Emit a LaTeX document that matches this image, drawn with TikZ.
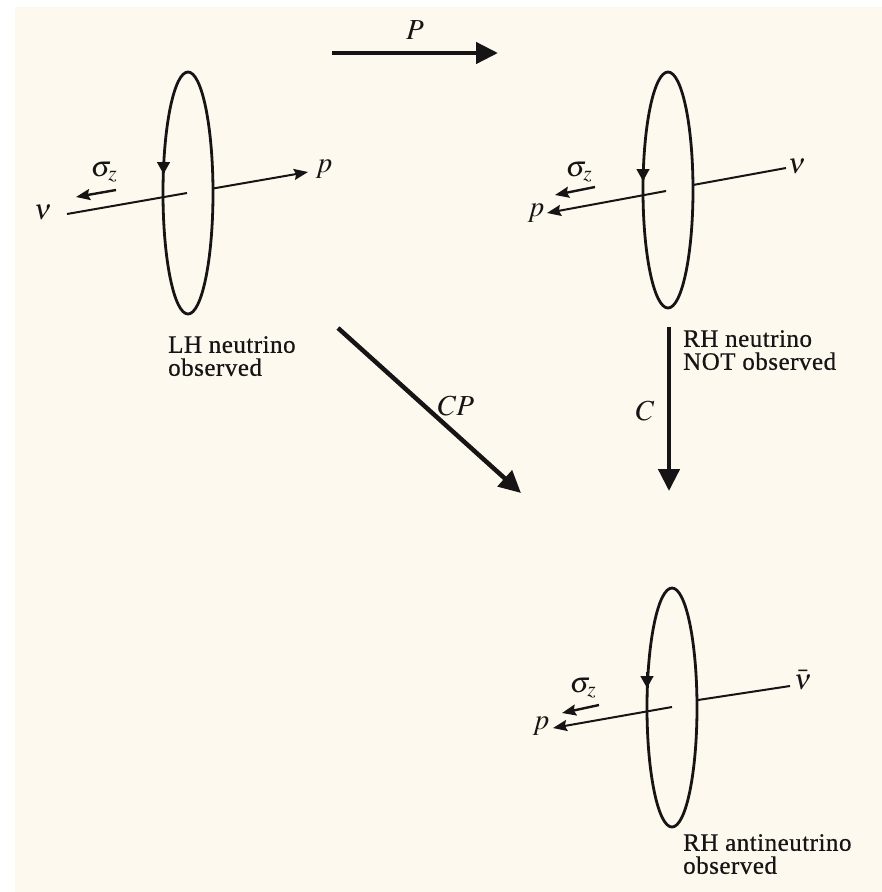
\documentclass[tikz,border=0pt]{standalone}
\usepackage{mathptmx}
\usepackage{fontspec}
\setmainfont{Liberation Serif}
\newfontfamily\labfont[FakeBold=0.6,LetterSpace=2]{Liberation Serif}
\usetikzlibrary{arrows.meta,shapes.geometric}
\definecolor{paper}{RGB}{253,249,239}
\definecolor{ink}{RGB}{22,20,20}
\tikzset{
  disc/.style={draw=ink,ellipse,line width=2.8pt,inner sep=0pt,minimum width=50pt,minimum height=240pt},
  axisline/.style={draw=ink,line width=2pt},
  axisarrow/.style={draw=ink,line width=2pt,-{Stealth[length=14pt,width=11pt,inset=2pt]}},
  spinarrow/.style={draw=ink,line width=2.4pt,-{Stealth[length=14pt,width=11pt,inset=2pt]}},
  rotarrow/.style={draw=ink,line width=1.5pt,-{Triangle[length=12pt,width=13pt]}},
  bigarrow/.style={draw=ink,line width=4.5pt,-{Triangle[length=22pt,width=21pt]}},
  lbl/.style={inner sep=0pt,text=ink,font=\fontsize{29}{29}\selectfont},
  caption/.style={inner sep=0pt,text=ink,align=left,anchor=north west,font=\labfont\fontsize{25}{23}\selectfont}
}
\begin{document}
\begin{tikzpicture}[x=1pt,y=-1pt]
\useasboundingbox (0,0) rectangle (882,892);
\fill[white] (0,0) rectangle (882,892);
\fill[paper] (15,7) rectangle (882,892);

% ---- top-left: LH neutrino
\node[disc,minimum height=242pt] (e1) at (188,193) {};
\coordinate (a1l) at (67,214);
\coordinate (a1c) at (187,193);
\coordinate (a1r) at (213,188.5);
\coordinate (a1t) at (308,172);
\draw[axisline] (a1l) -- (a1c);
\draw[axisarrow] (a1r) -- (a1t);
\coordinate (s1a) at (116,190);
\coordinate (s1b) at (76,197);
\draw[spinarrow] (s1a) -- (s1b);
\coordinate (r1a) at (163.5,158);
\coordinate (r1b) at (163.5,174);
\draw[rotarrow] (r1a) -- (r1b);
\node[lbl] (nu1) at (43,212) {$\nu$};
\node[lbl] (p1) at (324,169) {$p$};
\node[lbl] (sg1) at (104,172) {$\sigma_z$};
\node[caption] (c1) at (168,336) {LH neutrino\\observed};

% ---- top-right: RH neutrino
\node[disc,minimum height=236pt] (e2) at (668,190) {};
\coordinate (a2c) at (666,191);
\coordinate (a2t) at (547,213);
\coordinate (a2r) at (693,185);
\coordinate (a2e) at (786,168);
\draw[axisarrow] (a2c) -- (a2t);
\draw[axisline] (a2r) -- (a2e);
\coordinate (s2a) at (595,187);
\coordinate (s2b) at (555,195);
\draw[spinarrow] (s2a) -- (s2b);
\coordinate (r2a) at (643,165);
\coordinate (r2b) at (643,181);
\draw[rotarrow] (r2a) -- (r2b);
\node[lbl] (nu2) at (797,166) {$\nu$};
\node[lbl] (p2) at (536,213) {$p$};
\node[lbl] (sg2) at (579,172) {$\sigma_z$};
\node[caption] (c2) at (683,330) {RH neutrino\\NOT observed};

% ---- bottom: RH antineutrino
\node[disc,minimum height=239pt] (e3) at (672,707.5) {};
\coordinate (a3c) at (672,707);
\coordinate (a3t) at (553,728);
\coordinate (a3r) at (698,700);
\coordinate (a3e) at (790,686);
\draw[axisarrow] (a3c) -- (a3t);
\draw[axisline] (a3r) -- (a3e);
\coordinate (s3a) at (599,705);
\coordinate (s3b) at (562,713);
\draw[spinarrow] (s3a) -- (s3b);
\coordinate (r3a) at (647,672);
\coordinate (r3b) at (647,688);
\draw[rotarrow] (r3a) -- (r3b);
\node[lbl] (nu3) at (803,680) {$\bar{\nu}$};
\node[lbl] (p3) at (541,726) {$p$};
\node[lbl] (sg3) at (583,688) {$\sigma_z$};
\node[caption] (c3) at (683,834) {RH antineutrino\\observed};

% ---- transformation arrows
\coordinate (Pa) at (332,53);
\coordinate (Pb) at (498,53);
\draw[bigarrow] (Pa) -- (Pb);
\node[lbl] (Pl) at (415,30) {$P$};
\coordinate (Ca) at (669,327);
\coordinate (Cb) at (669,491);
\draw[bigarrow] (Ca) -- (Cb);
\node[lbl] (Cl) at (645,411) {$C$};
\coordinate (CPa) at (338,328);
\coordinate (CPb) at (521,493);
\draw[bigarrow] (CPa) -- (CPb);
\node[lbl] (CPl) at (456,406) {$CP$};
\end{tikzpicture}
\end{document}
